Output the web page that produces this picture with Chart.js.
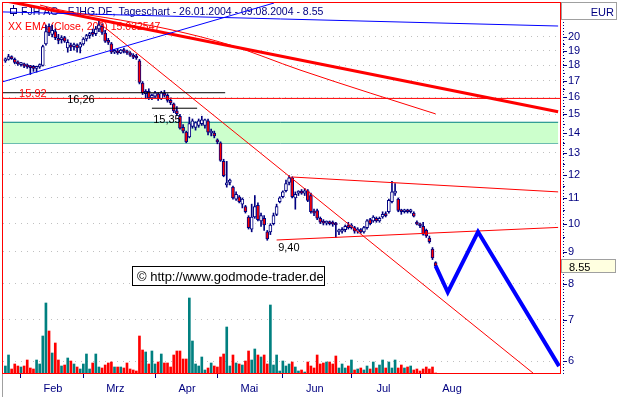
<!DOCTYPE html>
<html>
<head>
<meta charset="utf-8">
<script src="https://cdn.jsdelivr.net/npm/chart.js@4.4.1/dist/chart.umd.min.js"></script>
<style>
  html, body { margin: 0; padding: 0; background: #fff; }
  #wrap { width: 621px; height: 397px; }
</style>
</head>
<body>
<div id="wrap"><canvas id="chart" width="621" height="397"></canvas></div>
<script>
// Tageschart FJH AG, 26.01.2004 - 09.08.2004 (ein Eintrag pro Handelstag)
const monthLabels = ['Feb', 'Mrz', 'Apr', 'Mai', 'Jun', 'Jul', 'Aug'];
const monthStarts = [5, 25, 48, 68, 89, 111, 133];
const priceTicks = [6, 7, 8, 9, 10, 11, 12, 13, 14, 15, 16, 17, 18, 19, 20];

const opens = [
  18.30, 18.40, 18.60, 18.40, 18.20, 18.05, 18.10, 17.95, 17.90, 17.85,
  17.80, 17.90, 18.00, 19.50, 20.80, 20.20, 20.40, 19.90, 19.80, 19.95,
  19.20, 19.40, 19.30, 19.40, 19.25, 19.50, 19.85, 20.10, 20.30, 20.25,
  20.60, 20.80, 20.30, 19.70, 19.50, 18.90, 19.00, 18.85, 19.05, 18.95,
  18.85, 18.70, 18.55, 18.30, 16.85, 16.20, 16.35, 15.95, 16.05, 16.20,
  15.90, 16.20, 16.10, 15.80, 15.60, 15.20, 14.90, 14.30, 14.05, 13.80,
  14.35, 14.30, 14.40, 14.50, 14.40, 14.65, 14.00, 14.00, 13.60, 13.50,
  12.60, 11.55, 11.65, 11.45, 10.95, 11.05, 10.75, 10.65, 10.25, 9.80,
  10.25, 10.70, 10.10, 10.20, 9.70, 9.70, 10.00, 10.35, 10.85, 11.05,
  11.30, 11.65, 11.85, 11.00, 11.20, 11.25, 11.20, 11.30, 11.10, 10.45,
  10.50, 10.20, 10.05, 10.02, 10.05, 10.00, 9.98, 9.70, 9.72, 9.78,
  9.95, 9.85, 9.85, 9.72, 9.78, 9.70, 9.85, 10.15, 10.10, 10.20,
  10.10, 10.25, 10.35, 10.45, 10.85, 11.20, 10.95, 10.50, 10.45, 10.48,
  10.45, 10.40, 10.05, 9.98, 9.90, 9.75, 9.48, 9.10, 8.65
];
const highs = [
  18.50, 18.75, 18.65, 18.50, 18.30, 18.20, 18.15, 18.10, 18.00, 18.00,
  17.95, 18.10, 19.40, 20.90, 21.00, 20.90, 20.60, 20.20, 20.10, 20.05,
  19.80, 19.55, 19.55, 19.50, 19.60, 19.95, 20.20, 20.35, 20.60, 20.80,
  21.20, 21.00, 20.50, 19.90, 19.60, 19.10, 19.15, 19.10, 19.20, 19.05,
  18.95, 18.80, 18.75, 18.40, 16.95, 16.45, 16.50, 16.20, 16.35, 16.25,
  16.35, 16.40, 16.20, 15.95, 15.65, 15.45, 15.00, 14.45, 14.10, 14.85,
  14.75, 14.60, 14.75, 14.90, 14.75, 14.75, 14.20, 14.10, 13.70, 13.55,
  12.70, 12.60, 11.80, 11.50, 11.25, 11.10, 11.00, 10.70, 10.30, 10.75,
  11.10, 10.80, 10.40, 10.30, 9.75, 10.00, 10.40, 10.75, 11.05, 11.30,
  11.75, 11.95, 11.90, 11.25, 11.30, 11.35, 11.40, 11.35, 11.20, 10.55,
  10.55, 10.25, 10.15, 10.10, 10.10, 10.10, 10.05, 9.80, 9.85, 9.95,
  10.05, 10.00, 9.90, 9.85, 9.82, 9.90, 10.15, 10.20, 10.30, 10.25,
  10.25, 10.45, 10.45, 10.95, 11.70, 11.60, 11.00, 10.55, 10.55, 10.55,
  10.55, 10.45, 10.10, 10.02, 10.05, 9.80, 9.55, 9.15, 8.68
];
const lows = [
  18.20, 18.35, 18.40, 18.10, 18.00, 17.95, 17.85, 17.80, 17.40, 17.60,
  17.55, 17.80, 17.95, 19.40, 20.10, 20.00, 19.80, 19.50, 19.55, 19.60,
  18.90, 19.00, 19.05, 18.90, 18.85, 19.40, 19.70, 19.90, 20.05, 20.10,
  20.40, 20.20, 19.60, 19.45, 18.80, 18.80, 18.75, 18.80, 18.85, 18.75,
  18.60, 18.45, 18.40, 16.80, 16.15, 15.90, 15.85, 15.85, 15.95, 15.80,
  15.85, 16.00, 15.70, 15.55, 15.10, 14.95, 14.20, 14.00, 13.50, 13.75,
  14.25, 14.15, 14.30, 14.40, 14.25, 13.90, 13.85, 13.75, 13.45, 12.60,
  11.90, 11.45, 11.55, 10.95, 10.90, 10.80, 10.60, 10.40, 9.80, 9.70,
  10.20, 10.10, 9.90, 9.75, 9.40, 9.60, 9.95, 10.30, 10.80, 11.00,
  11.25, 11.55, 11.00, 10.55, 11.10, 11.15, 11.10, 10.85, 10.40, 10.30,
  10.15, 10.00, 9.95, 9.95, 9.95, 9.90, 9.50, 9.60, 9.65, 9.70,
  9.80, 9.80, 9.65, 9.65, 9.65, 9.65, 9.80, 9.95, 10.05, 10.05,
  10.05, 10.20, 10.25, 10.40, 10.80, 11.10, 10.45, 10.35, 10.40, 10.40,
  10.40, 10.25, 9.95, 9.85, 9.58, 9.50, 9.30, 8.75, 8.50
];
const closes = [
  18.40, 18.60, 18.45, 18.20, 18.10, 18.10, 17.95, 17.90, 17.85, 17.80,
  17.90, 18.05, 19.30, 20.40, 20.30, 20.50, 19.95, 19.75, 19.90, 19.70,
  19.60, 19.25, 19.45, 19.20, 19.50, 19.85, 20.10, 20.25, 20.20, 20.60,
  20.90, 20.35, 19.70, 19.60, 18.90, 19.00, 18.85, 19.05, 18.95, 18.85,
  18.70, 18.55, 18.50, 16.90, 16.25, 16.35, 15.95, 16.10, 16.25, 15.90,
  16.25, 16.10, 15.80, 15.65, 15.20, 15.05, 14.25, 14.10, 13.55, 14.50,
  14.65, 14.55, 14.65, 14.70, 14.70, 14.05, 14.10, 13.85, 13.55, 12.65,
  11.95, 11.62, 11.75, 11.00, 11.15, 10.85, 10.95, 10.45, 9.85, 10.25,
  10.65, 10.15, 10.30, 9.95, 9.45, 9.95, 10.30, 10.65, 11.00, 11.25,
  11.60, 11.85, 11.05, 11.15, 11.25, 11.20, 11.30, 10.90, 10.45, 10.40,
  10.20, 10.05, 10.02, 10.05, 10.00, 9.98, 9.95, 9.75, 9.78, 9.90,
  9.85, 9.95, 9.72, 9.80, 9.70, 9.85, 10.10, 10.00, 10.25, 10.10,
  10.20, 10.35, 10.30, 10.90, 11.25, 11.25, 10.50, 10.45, 10.48, 10.45,
  10.50, 10.28, 9.98, 9.92, 9.62, 9.55, 9.35, 8.80, 8.55
];
// Umsatz in Tsd. Stueck
const volumes = [
  14, 36, 8, 18, 14, 12, 14, 26, 10, 8,
  26, 18, 74, 140, 84, 40, 60, 26, 14, 16,
  30, 24, 18, 12, 8, 18, 38, 8, 20, 38,
  12, 10, 16, 20, 22, 12, 12, 12, 10, 20,
  8, 6, 4, 74, 46, 42, 18, 44, 18, 22,
  38, 20, 20, 12, 36, 44, 44, 28, 28, 150,
  64, 18, 14, 32, 6, 10, 20, 14, 12, 32,
  38, 92, 14, 36, 20, 18, 16, 24, 44, 26,
  48, 36, 32, 36, 18, 136, 16, 36, 4, 24,
  14, 18, 22, 12, 4, 6, 2, 22, 14, 10,
  36, 18, 20, 22, 22, 18, 34, 10, 18, 10,
  14, 26, 6, 8, 10, 6, 14, 8, 22, 10,
  16, 26, 10, 22, 10, 26, 10, 16, 10, 12,
  14, 6, 8, 4, 8, 12, 8, 12, 0
];

const emaDays = [11.1, 17.5, 36.8, 52.8, 72.1, 94.5, 117.0, 138];
const emaValues = [22.52, 22.11, 21.30, 20.56, 19.41, 17.69, 16.24, 15.03];

// Linien: [Handelstag, Kurs]
const blueRise = [[-0.77, 16.94], [86.17, 22.69]];
const blueTop = [[-0.77, 21.95], [177.3, 20.83]];
const redThick = [[-0.77, 22.91], [177.3, 15.15]];
const redSteep = [[30, 21.09], [169.26, 5.74]];
const channelTop = [[91.95, 11.89], [177.3, 11.25]];
const channelBottom = [[87, 9.41], [177.3, 9.86]];
const level1592 = [[-0.77, 15.92], [177.9, 15.92]];
const level1626 = [[-0.77, 16.26], [70.5, 16.26]];
const level1535 = [[47.0, 15.35], [61.5, 15.35]];
const projection = [[138, 8.55], [141.9, 7.75], [151.6, 9.70], [177.6, 5.89]];
const zoneTop = 14.57;
const zoneBottom = 13.48;
const zoneSpan = [-0.77, 177.3];

const titleText = 'FJH AG - FJHG.DE, Tageschart - 26.01.2004 - 09.08.2004 - 8.55';
const emaText = 'XX EMA (Close, 200) 15.032547';
const NAVY = '#000080';
const RED = '#ff0000';
const TEAL = '#008080';
const FONT = '"Liberation Sans", Arial, sans-serif';

const days = closes.map((c, i) => i);
const isUp = i => closes[i] >= opens[i];
const pts = arr => arr.map(([x, y]) => ({ x, y }));

function lineSet(label, arr, color, width, order) {
  return {
    type: 'line', label, data: pts(arr), yAxisID: 'y',
    borderColor: color, borderWidth: width, pointRadius: 0,
    fill: false, tension: 0, order: order
  };
}

function noPadding(s) {
  s.paddingTop = 0; s.paddingBottom = 0;
  s.paddingLeft = 0; s.paddingRight = 0;
}

const deko = {
  id: 'deko',
  beforeDatasetsDraw(chart) {
    const ctx = chart.ctx;
    ctx.save();
    ctx.strokeStyle = NAVY;
    ctx.lineWidth = 1;
    ctx.beginPath();
    ctx.moveTo(13.5, 5); ctx.lineTo(13.5, 16);
    ctx.stroke();
    ctx.fillStyle = '#fff';
    ctx.fillRect(10.5, 8.5, 6, 5);
    ctx.strokeRect(10.5, 8.5, 6, 5);
    ctx.font = '10.5px ' + FONT;
    ctx.fillStyle = NAVY;
    ctx.fillText(titleText, 21, 15);
    ctx.fillStyle = RED;
    ctx.fillText(emaText, 8, 30);
    ctx.restore();
  },
  afterDatasetsDraw(chart) {
    const { ctx, chartArea: a } = chart;
    const xs = chart.scales.x, ys = chart.scales.y;
    ctx.save();
    ctx.font = '11px ' + FONT;
    ctx.fillStyle = RED;
    ctx.fillText('15.92', xs.getPixelForValue(4.4), ys.getPixelForValue(15.92) - 1.5);
    ctx.fillStyle = '#000';
    ctx.fillText('16,26', xs.getPixelForValue(19.8), ys.getPixelForValue(16.26) + 10);
    ctx.fillText('15,35', xs.getPixelForValue(47.4), ys.getPixelForValue(15.35) + 15);
    ctx.fillText('9,40', xs.getPixelForValue(87.5), ys.getPixelForValue(9.40) + 11);

    // Quellenhinweis
    ctx.fillStyle = '#fff';
    ctx.fillRect(132.5, 266.5, 192, 19);
    ctx.strokeStyle = '#000';
    ctx.lineWidth = 1;
    ctx.strokeRect(132.5, 266.5, 192, 19);
    ctx.font = '13px ' + FONT;
    ctx.fillStyle = '#000';
    ctx.fillText('\u00a9 http://www.godmode-trader.de', 137, 281);

    // roter Rahmen
    ctx.strokeStyle = RED;
    ctx.strokeRect(a.left - 0.5, a.top - 0.5, a.right - a.left + 1, a.bottom - a.top + 1);
    ctx.strokeStyle = '#a0a0a0';
    ctx.beginPath();
    ctx.moveTo(a.left - 0.5, a.bottom + 1); ctx.lineTo(a.left - 0.5, 397);
    ctx.stroke();
    ctx.restore();
  },
  afterDraw(chart) {
    const { ctx, chartArea: a } = chart;
    const ys = chart.scales.y;
    ctx.save();
    // gepunktete Achse rechts
    ctx.strokeStyle = NAVY;
    ctx.lineWidth = 1;
    ctx.setLineDash([1, 2]);
    ctx.beginPath();
    ctx.moveTo(a.right + 3.5, 22); ctx.lineTo(a.right + 3.5, a.bottom + 1);
    ctx.stroke();
    ctx.setLineDash([]);
    priceTicks.forEach(v => {
      const py = Math.round(ys.getPixelForValue(v)) + 0.5;
      ctx.beginPath(); ctx.moveTo(a.right + 3, py); ctx.lineTo(a.right + 7, py); ctx.stroke();
      const ph = Math.round(ys.getPixelForValue(v + 0.5)) + 0.5;
      if (v < 20) { ctx.beginPath(); ctx.moveTo(a.right + 3, ph); ctx.lineTo(a.right + 5, ph); ctx.stroke(); }
    });

    // EUR-Feld
    ctx.fillStyle = '#fff';
    ctx.fillRect(561.5, 2.5, 55, 17);
    ctx.strokeStyle = '#a0a0a0';
    ctx.strokeRect(561.5, 2.5, 55, 17);
    ctx.font = '11px ' + FONT;
    ctx.fillStyle = NAVY;
    ctx.textAlign = 'right';
    ctx.fillText('EUR', 614, 16);

    // letzter Kurs
    const last = closes[closes.length - 1];
    const ly = Math.round(ys.getPixelForValue(last));
    ctx.fillStyle = '#ffffe0';
    ctx.fillRect(561.5, ly - 6.5, 54, 13);
    ctx.strokeStyle = '#a0a0a0';
    ctx.strokeRect(561.5, ly - 6.5, 54, 13);
    ctx.fillStyle = '#000';
    ctx.textAlign = 'left';
    ctx.fillText(last.toFixed(2), 569, ly + 4.5);
    ctx.restore();
  }
};

new Chart(document.getElementById('chart'), {
  type: 'bar',
  data: {
    datasets: [
      {
        type: 'line', label: 'Zone oben', yAxisID: 'y',
        data: zoneSpan.map(x => ({ x, y: zoneTop })),
        borderColor: TEAL, borderWidth: 1, pointRadius: 0,
        fill: '+1', backgroundColor: '#ccffcc', order: 20
      },
      {
        type: 'line', label: 'Zone unten', yAxisID: 'y',
        data: zoneSpan.map(x => ({ x, y: zoneBottom })),
        borderColor: TEAL, borderWidth: 1, pointRadius: 0,
        fill: false, order: 20
      },
      {
        label: 'Umsatz', yAxisID: 'yVol',
        data: days.map(i => ({ x: i, y: volumes[i] })),
        backgroundColor: days.map(i => isUp(i) ? TEAL : RED),
        barThickness: 2, grouped: false, order: 15
      },
      {
        label: 'Docht', yAxisID: 'y',
        data: days.map(i => ({ x: i, y: [lows[i], highs[i]] })),
        backgroundColor: NAVY,
        barThickness: 1, grouped: false, order: 12
      },
      {
        label: 'Kerze', yAxisID: 'y',
        data: days.map(i => ({ x: i, y: [opens[i], closes[i]] })),
        backgroundColor: days.map(i => isUp(i) ? '#ffffff' : RED),
        borderColor: NAVY, borderWidth: 1, borderSkipped: false,
        barThickness: 3, minBarLength: 2, grouped: false, order: 11
      },
      {
        type: 'line', label: 'EMA 200', yAxisID: 'y',
        data: emaDays.map((d, k) => ({ x: d, y: emaValues[k] })),
        borderColor: RED, borderWidth: 1, pointRadius: 0,
        fill: false, cubicInterpolationMode: 'monotone', order: 6
      },
      lineSet('Trend blau', blueRise, '#0000ff', 1, 6),
      lineSet('Trend blau oben', blueTop, '#0000ff', 1, 6),
      lineSet('Trend rot', redThick, RED, 3, 6),
      lineSet('Abwaertstrend', redSteep, RED, 1, 6),
      lineSet('Kanal oben', channelTop, RED, 1, 6),
      lineSet('Kanal unten', channelBottom, RED, 1, 6),
      lineSet('15.92', level1592, RED, 1, 5),
      lineSet('16.26', level1626, '#000000', 1, 5),
      lineSet('15.35', level1535, '#000000', 1, 5),
      lineSet('Projektion', projection, '#0000ff', 4, 1)
    ]
  },
  options: {
    responsive: false,
    animation: false,
    events: [],
    layout: { padding: { left: 3, top: 3, right: 0, bottom: 0 } },
    plugins: { legend: { display: false }, tooltip: { enabled: false } },
    scales: {
      x: {
        type: 'linear', min: -0.77, max: 177.9, offset: false,
        grid: { offset: false, drawOnChartArea: false, drawTicks: true, tickLength: 5, color: NAVY },
        border: { display: false },
        ticks: {
          autoSkip: false, maxRotation: 0, labelOffset: 32, padding: 4,
          color: NAVY, font: { family: FONT, size: 11 },
          callback: (v, idx) => monthLabels[idx]
        },
        afterBuildTicks: s => { s.ticks = monthStarts.map(v => ({ value: v })); },
        afterFit: s => { s.height = 24; noPadding(s); }
      },
      y: {
        type: 'logarithmic', position: 'right', min: 5.742, max: 22.69,
        grid: { offset: false, color: '#c0c0c0', drawTicks: false },
        border: { display: false, dash: [1, 5] },
        ticks: {
          autoSkip: false, padding: 8, color: NAVY, font: { family: FONT, size: 11 },
          callback: v => String(v)
        },
        afterBuildTicks: s => { s.ticks = priceTicks.map(v => ({ value: v })); },
        afterFit: s => { s.width = 61; noPadding(s); }
      },
      yVol: { type: 'linear', display: false, min: 0, max: 740 }
    }
  },
  plugins: [deko]
});
</script>
</body>
</html>
